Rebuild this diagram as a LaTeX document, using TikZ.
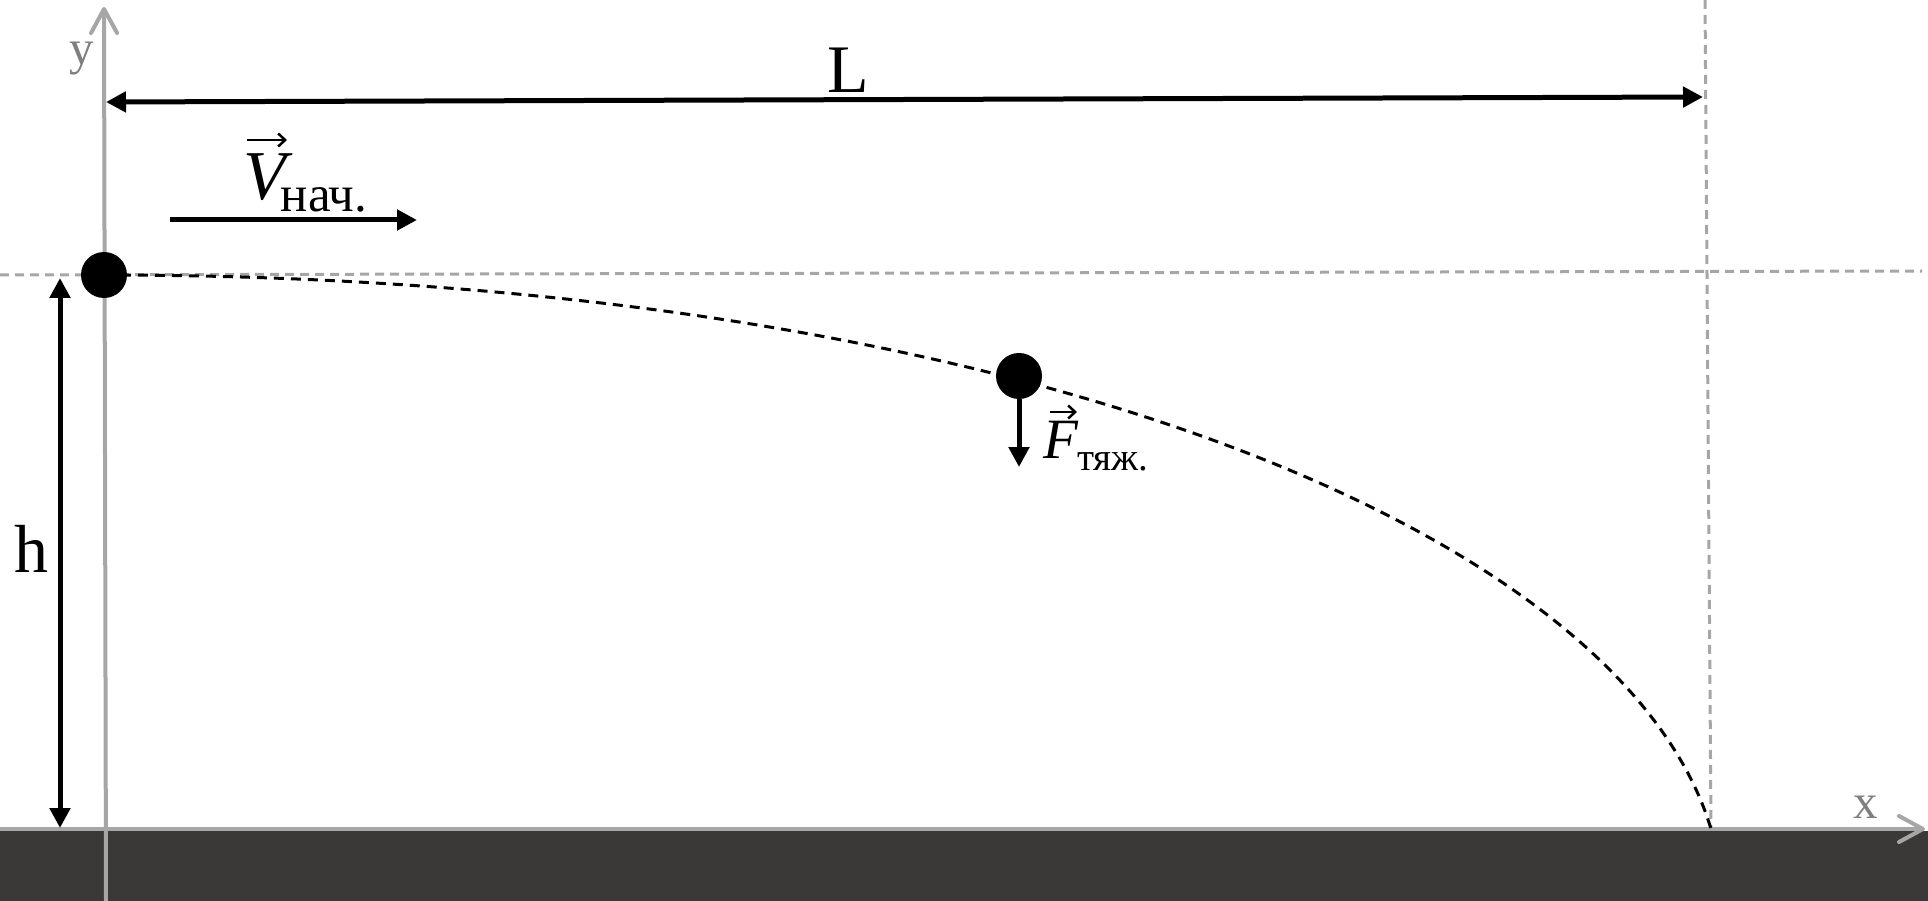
\documentclass[tikz,border=0pt]{standalone}
\usepackage{fontspec}
\setmainfont{Liberation Serif}
\usetikzlibrary{arrows.meta}
\definecolor{axisgray}{HTML}{A6A6A6}
\definecolor{labelgray}{HTML}{7F7F7F}
\definecolor{groundcol}{HTML}{3A3938}
\begin{document}
\begin{tikzpicture}[x=1pt,y=-1pt,
  axisline/.style={draw=axisgray,line width=4pt,-{Straight Barb[length=24pt,width=26pt,round]}},
  guide/.style={draw=axisgray,line width=3pt,dash pattern=on 9pt off 6pt},
  traj/.style={draw=black,line width=3pt,dash pattern=on 10pt off 7pt},
  dimtwo/.style={line width=5pt,{Triangle[length=20pt,width=20pt]}-{Triangle[length=20pt,width=20pt]}},
  dimone/.style={line width=5pt,-{Triangle[length=20pt,width=20pt]}},
  vecar/.style={line width=2.5pt,-{Straight Barb[length=7pt,width=13pt]}},
  ball/.style={circle,fill=black,minimum size=46pt,inner sep=0pt},
  lbl/.style={inner sep=0pt}]
\useasboundingbox (0,0) rectangle (1928,901);
% ground
\fill[groundcol] (0,831) rectangle (1928,901);
% named points
\coordinate (hg0) at (0,275);
\coordinate (hg1) at (1922,271);
\coordinate (vg0) at (1705,0);
\coordinate (vg1) at (1711,829);
\coordinate (xa0) at (0,829);
\coordinate (xa1) at (1925,829);
\coordinate (ya0) at (106,901);
\coordinate (ya1) at (104,7);
\coordinate (Ll) at (106,102);
\coordinate (Lr) at (1703,97);
\coordinate (ht) at (60,278);
\coordinate (hb) at (60,828);
\coordinate (v0) at (170,220);
\coordinate (v1) at (417,220);
\coordinate (ftip) at (1019,467);
\coordinate (land) at (1711,829);
% guides
\draw[guide] (hg0) -- (hg1);
\draw[guide] (vg0) -- (vg1);
% axes
\draw[axisline] (xa0) -- (xa1);
\draw[axisline] (ya0) -- (ya1);
% trajectory
\coordinate (start) at (104,275);
\draw[traj] (start) .. controls (1004,275) and (1621,529) .. (land);
% balls
\node[ball] (b1) at (104,275) {};
\node[ball] (b2) at (1019,376) {};
% arrows
\draw[dimtwo] (Ll) -- (Lr);
\draw[dimtwo] (ht) -- (hb);
\draw[dimone] (v0) -- (v1);
\draw[dimone] (b2.south) -- (ftip);
% labels
\node[lbl,text=labelgray,anchor=base,font=\fontsize{49}{49}\selectfont] (ylab) at (82,65) {y};
\node[lbl,text=labelgray,anchor=base,font=\fontsize{49}{49}\selectfont] (xlab) at (1866,818) {x};
\node[lbl,anchor=base,font=\fontsize{68}{68}\selectfont] (Llab) at (848,93) {L};
\node[lbl,anchor=base,font=\fontsize{68}{68}\selectfont] (hlab) at (31,572) {h};
\node[lbl,anchor=base west] (Vlab) at (243,200)
  {{\fontsize{70}{70}\selectfont\itshape V}\kern-5pt\raisebox{-12pt}{\fontsize{51}{51}\selectfont нач.}};
\coordinate (va0) at (247,140);
\coordinate (va1) at (287,140);
\draw[vecar] (va0) -- (va1);
\node[lbl,anchor=base west] (Flab) at (1043,458)
  {{\fontsize{57}{57}\selectfont\itshape F}\kern-1pt\raisebox{-12pt}{\fontsize{39}{39}\selectfont тяж.}};
\coordinate (fa0) at (1050,412);
\coordinate (fa1) at (1077,412);
\draw[vecar] (fa0) -- (fa1);
\end{tikzpicture}
\end{document}
